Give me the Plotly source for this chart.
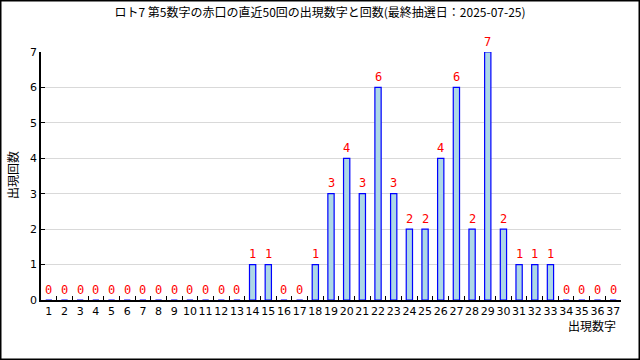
import plotly.graph_objects as go

numbers = [str(i) for i in range(1, 38)]
counts = [0, 0, 0, 0, 0, 0, 0, 0, 0, 0, 0, 0, 0, 1, 1, 0, 0, 1, 3, 4,
          3, 6, 3, 2, 2, 4, 6, 2, 7, 2, 1, 1, 1, 0, 0, 0, 0]
y_ticks = [0, 1, 2, 3, 4, 5, 6, 7]

title_text = "ロト7 第5数字の赤口の直近50回の出現数字と回数(最終抽選日：2025-07-25)"

fig = go.Figure()
fig.add_trace(go.Bar(
    x=numbers, y=counts, width=0.4,
    marker=dict(color="#add8e6", line=dict(color="#0000ff", width=1.2)),
    cliponaxis=False, hoverinfo="x+y",
))

L, R, T, B = 41, 19, 52, 60
W, H = 640, 360
pw, ph = W - L - R, H - T - B

annotations = [
    dict(x=i, y=c, text=str(c), xref="x", yref="y", showarrow=False,
         yshift=10.5, xanchor="center", yanchor="middle",
         font=dict(color="#ff0000", size=12, family="DejaVu Sans Mono"))
    for i, c in enumerate(counts)
]
annotations += [
    dict(text="出現回数", xref="paper", yref="paper", x=-29 / pw, y=(H - B - 175) / ph,
         textangle=-90, showarrow=False, xanchor="center", yanchor="middle",
         font=dict(family="Noto Sans CJK JP", size=12, color="#000")),
    dict(text="出現数字", xref="paper", yref="paper", x=(618 - L) / pw, y=-(325 - (H - B)) / ph,
         showarrow=False, xanchor="right", yanchor="middle",
         font=dict(family="Noto Sans CJK JP", size=12, color="#000")),
]

fig.update_layout(
    width=W, height=H,
    margin=dict(l=L, r=R, t=T, b=B, pad=0),
    paper_bgcolor="white", plot_bgcolor="white",
    showlegend=False,
    title=dict(text=title_text, x=0.5, xanchor="center", y=1 - 13 / H, yanchor="middle",
               font=dict(family="Noto Sans CJK JP", size=12, color="#000")),
    font=dict(family="DejaVu Sans", size=11, color="#000"),
    xaxis=dict(type="category", tickson="boundaries", ticks="inside", ticklen=4,
               tickcolor="#000", showline=True, linecolor="#000", linewidth=1.5,
               showgrid=False, tickfont=dict(size=11, family="DejaVu Sans"),
               tickangle=0, automargin=False,
               range=[-0.5, 36.5], fixedrange=True),
    yaxis=dict(range=[0, 7], tickvals=y_ticks, ticks="inside", ticklen=4,
               tickcolor="#000", showline=True, linecolor="#000", linewidth=1.5,
               showgrid=True, gridcolor="#d9d9d9", gridwidth=1, zeroline=False,
               automargin=False,
               tickfont=dict(size=11, family="DejaVu Sans"), fixedrange=True),
    annotations=annotations,
    shapes=[dict(type="rect", xref="paper", yref="paper",
                 x0=-(L - 0.75) / pw, x1=(pw + R - 0.75) / pw,
                 y0=-(B - 0.75) / ph, y1=(ph + T - 0.75) / ph,
                 line=dict(color="#000", width=1.5), fillcolor="rgba(0,0,0,0)")],
)

fig.write_html("out.html", config={"displayModeBar": False},
               post_script="document.body.style.margin='0';document.body.style.overflow='hidden';")
